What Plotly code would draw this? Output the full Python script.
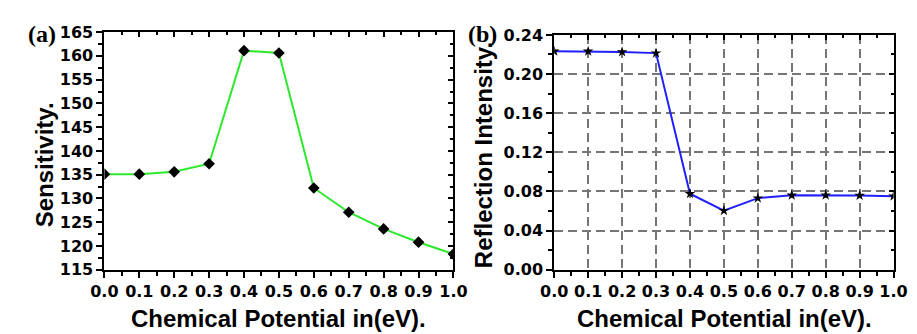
import plotly.graph_objects as go

x_vals = [0.0, 0.1, 0.2, 0.3, 0.4, 0.5, 0.6, 0.7, 0.8, 0.9, 1.0]
sensitivity = [135.1, 135.1, 135.6, 137.3, 161.1, 160.6, 132.2, 127.1, 123.6, 120.8, 118.3]
reflection = [0.2233, 0.2233, 0.2226, 0.2214, 0.0777, 0.0604, 0.0732, 0.0761, 0.0762, 0.0758, 0.0752]
x_ticks = [0.0, 0.1, 0.2, 0.3, 0.4, 0.5, 0.6, 0.7, 0.8, 0.9, 1.0]
x_ticklabels = ["0.0", "0.1", "0.2", "0.3", "0.4", "0.5", "0.6", "0.7", "0.8", "0.9", "1.0"]
ya_ticks = [115, 120, 125, 130, 135, 140, 145, 150, 155, 160, 165]
yb_ticks = [0.00, 0.04, 0.08, 0.12, 0.16, 0.20, 0.24]
yb_ticklabels = ["0.00", "0.04", "0.08", "0.12", "0.16", "0.20", "0.24"]

W, H = 917, 334
def px(x): return x / W
def py(y): return (H - y) / H

tickfont = dict(family="DejaVu Sans, sans-serif", size=16, color="black", weight="bold")
titlefont = dict(family="Liberation Sans, Arial, sans-serif", size=24, color="black")
labelfont = dict(family="Liberation Serif, Times New Roman, serif", size=24, color="black")
GRID = "#767676"
DASH = "9px,5px"

fig = go.Figure()
fig.add_trace(go.Scatter(x=x_vals, y=sensitivity, mode="lines+markers",
                         line=dict(color="#2ee82e", width=2),
                         marker=dict(symbol="diamond", size=9, color="black"),
                         xaxis="x", yaxis="y", showlegend=False))
fig.add_trace(go.Scatter(x=x_vals, y=reflection, mode="lines+markers",
                         line=dict(color="#1f1fff", width=2),
                         marker=dict(symbol="star", size=8, color="black"),
                         xaxis="x2", yaxis="y2", showlegend=False))

xa_dom = [px(85), px(445)]
ya_dom = [py(268), py(16)]
xb_dom = [px(549), px(899)]
yb_dom = [py(268), py(19)]

common_x = dict(range=[0, 1], tickvals=x_ticks, ticktext=x_ticklabels,
                ticks="outside", ticklen=6, tickwidth=2, tickcolor="black",
                showline=True, linecolor="black", linewidth=2,
                minor=dict(ticks="outside", ticklen=4, tickwidth=2, tickcolor="black", dtick=0.05, showgrid=False),
                tickfont=tickfont, zeroline=False)

def mirror_axis(dom, anchor, overlay, side, rng, tv, dt):
    return dict(domain=dom, anchor=anchor, overlaying=overlay, side=side, range=rng,
                tickvals=tv, ticks="inside", ticklen=5, tickwidth=2, tickcolor="black",
                showticklabels=False, showline=True, linecolor="black", linewidth=2, showgrid=False,
                minor=dict(ticks="inside", ticklen=3, tickwidth=2, tickcolor="black", dtick=dt),
                zeroline=False)

fig.update_layout(
    width=W, height=H, margin=dict(l=0, r=0, t=0, b=0),
    paper_bgcolor="white", plot_bgcolor="white",
    xaxis=dict(domain=xa_dom, anchor="y", showgrid=False, **common_x),
    yaxis=dict(domain=ya_dom, anchor="x", range=[115, 165], tickvals=ya_ticks,
               ticks="outside", ticklen=6, tickwidth=2, tickcolor="black",
               showline=True, linecolor="black", linewidth=2, showgrid=False,
               minor=dict(ticks="outside", ticklen=4, tickwidth=2, tickcolor="black", dtick=2.5),
               tickfont=tickfont, zeroline=False),
    xaxis2=dict(domain=xb_dom, anchor="y2", showgrid=True, gridcolor=GRID,
                gridwidth=2, griddash=DASH, **common_x),
    yaxis2=dict(domain=yb_dom, anchor="x2", range=[0, 0.24], tickvals=yb_ticks, ticktext=yb_ticklabels,
                ticks="outside", ticklen=6, tickwidth=2, tickcolor="black",
                showline=True, linecolor="black", linewidth=2, showgrid=True,
                gridcolor=GRID, gridwidth=2, griddash=DASH,
                minor=dict(ticks="outside", ticklen=4, tickwidth=2, tickcolor="black", dtick=0.02, showgrid=False),
                tickfont=tickfont, zeroline=False),
    xaxis3=mirror_axis(xa_dom, "y", "x", "top", [0, 1], x_ticks, 0.05),
    yaxis3=mirror_axis(ya_dom, "x", "y", "right", [115, 165], ya_ticks, 2.5),
    xaxis4=mirror_axis(xb_dom, "y2", "x2", "top", [0, 1], x_ticks, 0.05),
    yaxis4=mirror_axis(yb_dom, "x2", "y2", "right", [0, 0.24], yb_ticks, 0.02),
)

fig.add_trace(go.Scatter(x=[None], y=[None], xaxis="x3", yaxis="y3", showlegend=False, hoverinfo="skip"))
fig.add_trace(go.Scatter(x=[None], y=[None], xaxis="x4", yaxis="y4", showlegend=False, hoverinfo="skip"))

annots = [
    dict(text="<b>Chemical Potential in(eV).</b>", x=px(265), y=py(320), font=titlefont,
         xanchor="center", yanchor="middle"),
    dict(text="<b>Chemical Potential in(eV).</b>", x=px(725), y=py(320), font=titlefont,
         xanchor="center", yanchor="middle"),
    dict(text="<b>Sensitivity.</b>", x=px(23), y=py(157), font=titlefont, textangle=-90,
         xanchor="center", yanchor="middle"),
    dict(text="<b>Reflection Intensity.</b>", x=px(476), y=py(146), font=titlefont, textangle=-90,
         xanchor="center", yanchor="middle"),
    dict(text="<b>(a)</b>", x=px(5), y=py(3), font=labelfont, xanchor="left", yanchor="top"),
    dict(text="<b>(b)</b>", x=px(459), y=py(3), font=labelfont, xanchor="left", yanchor="top"),
]
for a in annots:
    fig.add_annotation(xref="paper", yref="paper", showarrow=False, borderpad=0, **a)

fig.write_html("out.html")
